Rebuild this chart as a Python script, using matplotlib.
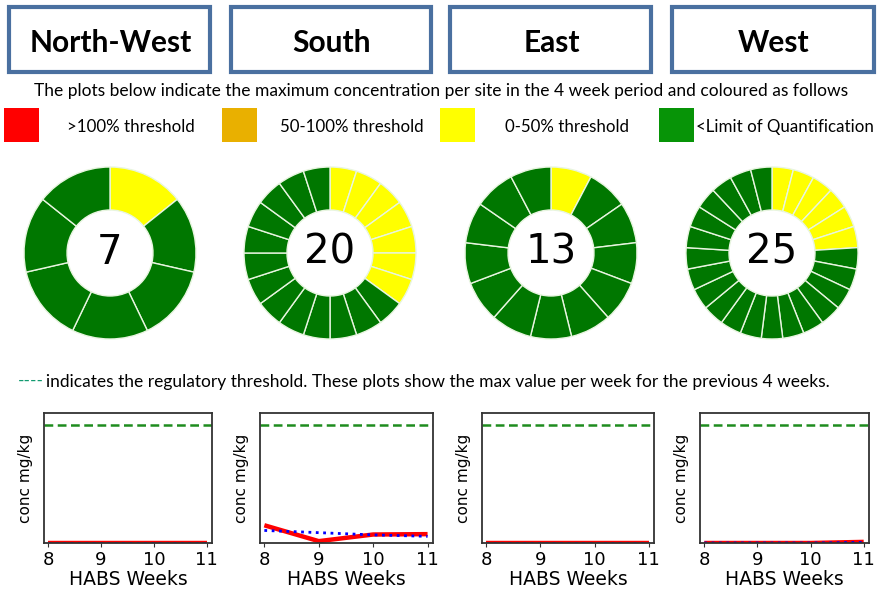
import matplotlib.pyplot as plt
from matplotlib.patches import Rectangle

# data
regions = ['North-West', 'South', 'East', 'West']
site_counts = [7, 20, 13, 25]            # number of sites per region (centre of donut)
yellow_counts = [1, 7, 1, 6]             # sites in the 0-50% band, rest are <LoQ
weeks = [8, 9, 10, 11]
max_conc = [[0, 0, 0, 0],                # red line, max value per week
            [24, 2.5, 11.5, 12],
            [0, 0, 0, 0],
            [0, 0, 0, 1.5]]
trend_conc = [[0, 0, 0, 0],              # blue dotted line
              [17, 14, 11, 9],
              [0, 0, 0, 0],
              [0, 0, 0, 0.8]]
threshold = 160
legend_labels = ['>100% threshold', '50-100% threshold', '0-50% threshold', '<Limit of Quantification']
legend_colors = ['#ff0000', '#e9b000', '#ffff00', '#079407']
intro_text = 'The plots below indicate the maximum concentration per site in the 4 week period and coloured as follows'
line_text = 'indicates the regulatory threshold. These plots show the max value per week for the previous 4 weeks.'

W, H = 878, 594
fig = plt.figure(figsize=(W / 100, H / 100), dpi=100)

def px_axes(left, top, right, bottom):                        # axes from pixel box
    return fig.add_axes([left / W, 1 - bottom / H, (right - left) / W, (bottom - top) / H])

# background axes in pixel coordinates for boxes and texts
bg = px_axes(0, 0, W, H)
bg.set_xlim(0, W)
bg.set_ylim(H, 0)
bg.axis('off')

box_x = [(9, 210), (231, 431), (450, 651), (672, 874)]
for (x0, x1), name in zip(box_x, regions):
    bg.add_patch(Rectangle((x0, 7), x1 - x0, 65, fill=False, edgecolor='#4a70a0', linewidth=3))
    bg.text((x0 + x1) / 2 + 1, 43, name, ha='center', va='center', fontsize=21.5,
            fontweight='bold', family='Lato')

bg.text(441, 91, intro_text, ha='center', va='center', fontsize=12.5, family='Lato')

sq_x = [4, 222, 440, 659]
lab_x = [67, 280, 505, 696]
for sx, lx, lab, col in zip(sq_x, lab_x, legend_labels, legend_colors):
    bg.add_patch(Rectangle((sx, 108), 35, 34, facecolor=col, edgecolor='none'))
    bg.text(lx, 127, lab, ha='left', va='center', fontsize=12.2, family='Lato')

bg.text(18, 381, '----', ha='left', va='center', fontsize=12.5, family='Lato', color='#119a70')
bg.text(46, 382, line_text, ha='left', va='center', fontsize=12.5, family='Lato')

# donuts
donut_cx = [110, 330, 551, 772]
for cx, n, ny in zip(donut_cx, site_counts, yellow_counts):
    ax = px_axes(cx - 88, 253 - 88, cx + 88, 253 + 88)
    cols = ['#ffff00'] * ny + ['#007700'] * (n - ny)
    ax.pie([1] * n, colors=cols, startangle=90, counterclock=False, radius=1,
           wedgeprops=dict(width=0.5, edgecolor='#e8f5e0', linewidth=1))
    ax.set_xlim(-88 / 86, 88 / 86)
    ax.set_ylim(-88 / 86, 88 / 86)
    ax.set_aspect('equal')
    ax.text(0, 0, str(n), ha='center', va='center', fontsize=29)

# weekly line plots
line_box = [(44, 212), (260, 433), (482, 654), (700, 869)]
for (x0, x1), red, blue in zip(line_box, max_conc, trend_conc):
    ax = px_axes(x0, 413, x1, 543)
    ax.plot(weeks, red, color='red', linewidth=3.2, solid_capstyle='butt', clip_on=True)
    ax.plot(weeks, blue, color='blue', linewidth=2, linestyle=':')
    ax.axhline(threshold, color='#1e8c1e', linewidth=1.8, linestyle=(0, (3.5, 1.8)))
    ax.set_xlim(7.92, 11.1)
    ax.set_ylim(0, 176)
    ax.set_xticks(weeks)
    ax.set_yticks([])
    ax.tick_params(axis='x', labelsize=13, length=3, color='#333333', pad=2.5)
    for s in ax.spines.values():
        s.set_color('#333333')
        s.set_linewidth(1.3)
    ax.set_xlabel('HABS Weeks', fontsize=13.5, labelpad=1)
    ax.set_ylabel('conc mg/kg', fontsize=11, labelpad=8)

fig.savefig('out.png', dpi=100)
